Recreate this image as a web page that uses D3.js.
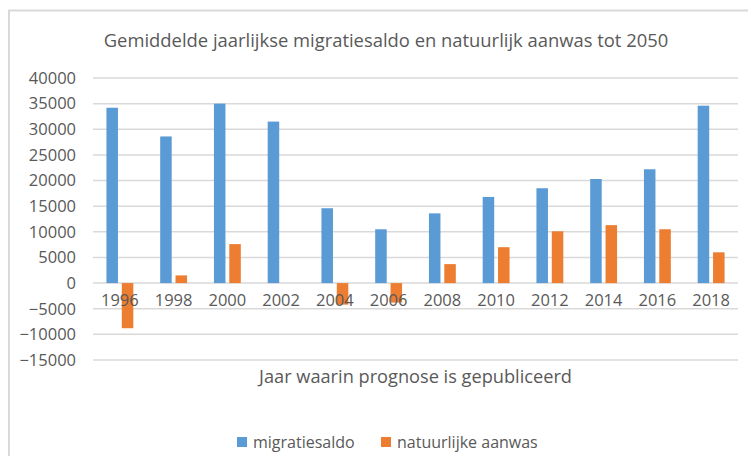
<!DOCTYPE html>
<html>
<head>
<meta charset="utf-8">
<script src="https://cdn.jsdelivr.net/npm/d3@7"></script>
<style>
  body { margin: 0; background: #fff; }
  text { font-family: "Open Sans", sans-serif; fill: #595959; }
</style>
</head>
<body>
<div id="chart"></div>
<script>
const years = ["1996", "1998", "2000", "2002", "2004", "2006", "2008", "2010", "2012", "2014", "2016", "2018"];
const migratiesaldo = [34200, 28600, 35000, 31500, 14600, 10500, 13600, 16800, 18500, 20300, 22200, 34600];
const natuurlijkeAanwas = [-8800, 1500, 7600, 0, -4200, -3800, 3700, 7000, 10100, 11300, 10500, 6000];
const seriesNames = ["migratiesaldo", "natuurlijke aanwas"];
const colors = ["#5b9bd5", "#ed7d31"];
const yTicks = d3.range(-15000, 40001, 5000);

const W = 748, H = 456;
const margin = { top: 78, right: 10, bottom: 96, left: 93 };

const svg = d3.select("#chart").append("svg")
  .attr("width", W)
  .attr("height", H);

// chart area frame
svg.append("rect")
  .attr("x", 9).attr("y", 10.5)
  .attr("width", 780).attr("height", 500)
  .attr("fill", "#fff")
  .attr("stroke", "#d9d9d9")
  .attr("stroke-width", 2);

svg.append("text")
  .attr("x", 386).attr("y", 41)
  .attr("dy", "0.35em")
  .attr("text-anchor", "middle")
  .style("font-size", "18.4px")
  .text("Gemiddelde jaarlijkse migratiesaldo en natuurlijk aanwas tot 2050");

const x0 = d3.scaleBand()
  .domain(years)
  .range([margin.left, W - margin.right])
  .paddingInner(0.5)
  .paddingOuter(0.25);

const x1 = d3.scaleBand()
  .domain([0, 1])
  .range([0, x0.bandwidth()])
  .paddingInner(0.25);

const y = d3.scaleLinear()
  .domain([-15000, 40000])
  .range([H - margin.bottom, margin.top]);

// gridlines
svg.append("g")
  .selectAll("line")
  .data(yTicks)
  .join("line")
  .attr("x1", margin.left)
  .attr("x2", W - margin.right)
  .attr("y1", d => y(d))
  .attr("y2", d => y(d))
  .attr("stroke", "#d9d9d9")
  .attr("stroke-width", 1.5);

const yAxis = d3.axisLeft(y).tickValues(yTicks).tickSize(0).tickPadding(0).tickFormat(d3.format("d"));
const gy = svg.append("g")
  .attr("transform", `translate(${margin.left - 17},0)`)
  .call(yAxis);
gy.select(".domain").remove();
gy.selectAll("text")
  .style("font-size", "16.5px")
  .style("font-family", "Open Sans, sans-serif")
  .attr("fill", "#595959");

// bars
const groups = svg.append("g")
  .selectAll("g")
  .data(years)
  .join("g")
  .attr("transform", d => `translate(${x0(d)},0)`);

groups.selectAll("rect")
  .data((d, i) => [migratiesaldo[i], natuurlijkeAanwas[i]])
  .join("rect")
  .attr("x", (d, j) => x1(j))
  .attr("width", x1.bandwidth())
  .attr("y", d => y(Math.max(0, d)))
  .attr("height", d => Math.abs(y(d) - y(0)))
  .attr("fill", (d, j) => colors[j]);

// category labels
const xAxis = d3.axisBottom(x0).tickSize(0).tickPadding(0);
const gx = svg.append("g")
  .attr("transform", `translate(0,${y(0) + 17})`)
  .call(xAxis);
gx.select(".domain").remove();
gx.selectAll("text")
  .attr("dy", "0.35em")
  .style("font-size", "16.5px")
  .style("font-family", "Open Sans, sans-serif")
  .attr("fill", "#595959");

svg.append("text")
  .attr("x", (margin.left + W - margin.right) / 2)
  .attr("y", 377)
  .attr("dy", "0.35em")
  .attr("text-anchor", "middle")
  .style("font-size", "18.2px")
  .text("Jaar waarin prognose is gepubliceerd");

// legend
const legendX = [237, 381];
const legend = svg.append("g")
  .selectAll("g")
  .data(seriesNames)
  .join("g")
  .attr("transform", (d, i) => `translate(${legendX[i]},442)`);

legend.append("rect")
  .attr("x", 0).attr("y", -5)
  .attr("width", 10).attr("height", 10)
  .attr("fill", (d, i) => colors[i]);

legend.append("text")
  .attr("x", 16)
  .attr("dy", "0.35em")
  .style("font-size", "16px")
  .text(d => d);
</script>
</body>
</html>
